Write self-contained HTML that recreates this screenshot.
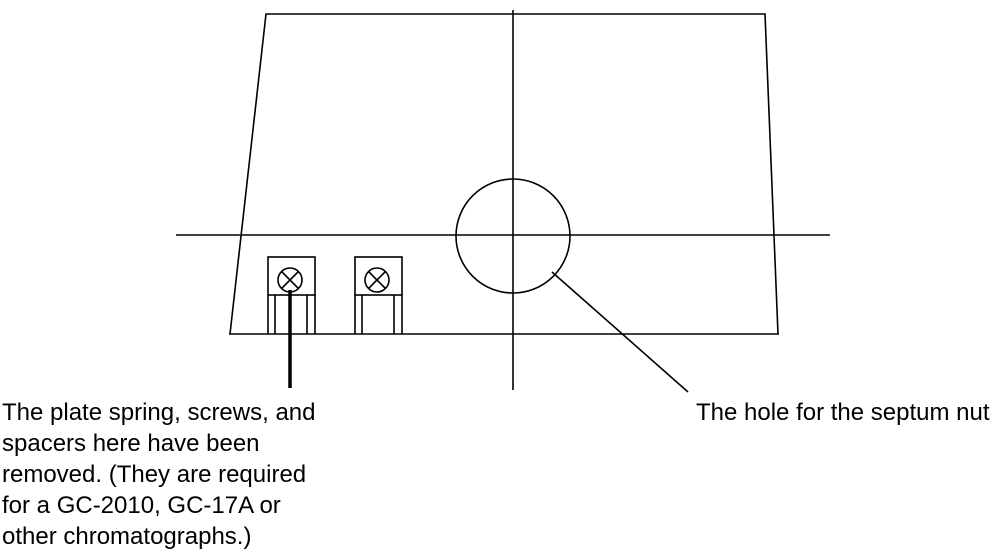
<!DOCTYPE html>
<html><head><style>body{margin:0;background:#fff}</style></head><body>
<svg width="995" height="553" xmlns="http://www.w3.org/2000/svg" style="display:block">
<g stroke="#000" fill="none" stroke-width="1.6">
<polyline points="230,334 266,14 765,14 778,334"/>
<line x1="229" y1="334" x2="779" y2="334"/>
<line x1="176" y1="235" x2="830" y2="235"/>
<line x1="513" y1="10" x2="513" y2="390"/>
<circle cx="513" cy="236" r="57"/>
<line x1="552" y1="272" x2="688" y2="392"/>
<rect x="268" y="257" width="47" height="38"/>
<line x1="268" y1="295" x2="268" y2="334"/><line x1="275" y1="295" x2="275" y2="334"/>
<line x1="307" y1="295" x2="307" y2="334"/><line x1="315" y1="295" x2="315" y2="334"/>
<circle cx="290" cy="280" r="12" fill="#fff"/>
<line x1="282" y1="272" x2="298" y2="288"/><line x1="298" y1="272" x2="282" y2="288"/>
<rect x="355" y="257" width="47" height="38"/>
<line x1="355" y1="295" x2="355" y2="334"/><line x1="362" y1="295" x2="362" y2="334"/>
<line x1="394" y1="295" x2="394" y2="334"/><line x1="402" y1="295" x2="402" y2="334"/>
<circle cx="377" cy="280" r="12"/>
<line x1="369" y1="272" x2="385" y2="288"/><line x1="385" y1="272" x2="369" y2="288"/>
<line x1="290" y1="290" x2="290" y2="388" stroke-width="3.5"/>
</g>
<g font-family="Liberation Sans, Arial, sans-serif" font-size="24" fill="#000">
<text x="2" y="420">The plate spring, screws, and</text>
<text x="2" y="451">spacers here have been</text>
<text x="2" y="482">removed. (They are required</text>
<text x="2" y="513">for a GC-2010, GC-17A or</text>
<text x="2" y="544">other chromatographs.)</text>
<text x="696" y="420">The hole for the septum nut</text>
</g>
</svg>
</body></html>
